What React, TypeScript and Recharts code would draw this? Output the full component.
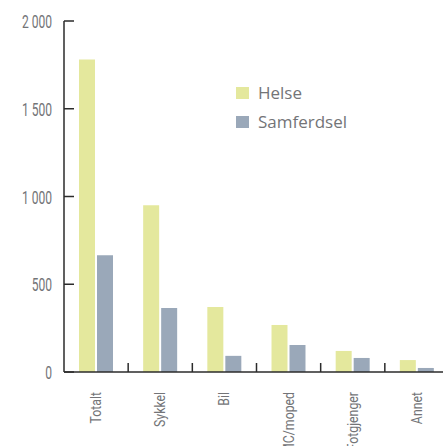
import React from 'react';
import { BarChart, Bar, XAxis, YAxis } from 'recharts';

const CATEGORIES = ['Totalt', 'Sykkel', 'Bil', 'MC/moped', 'Fotgjenger', 'Annet'];
const HELSE = [1780, 950, 370, 268, 120, 68];
const SAMFERDSEL = [665, 365, 92, 154, 80, 23];
const Y_TICKS = [0, 500, 1000, 1500, 2000];
const Y_LABELS = ['0', '500', '1 000', '1 500', '2 000'];

const SERIES = [
  { key: 'helse', name: 'Helse', color: '#e4e89d' },
  { key: 'samferdsel', name: 'Samferdsel', color: '#9aa8b9' },
];

const data = CATEGORIES.map((name, i) => ({
  name,
  helse: HELSE[i],
  samferdsel: SAMFERDSEL[i],
}));

const CHART_W = 450;
const CHART_H = 446;
const Y_AXIS_W = 64;
const MARGIN = { top: 21, right: 1, left: 0, bottom: 0 };
const BAND = (CHART_W - Y_AXIS_W - MARGIN.left - MARGIN.right) / CATEGORIES.length;

const AXIS_COLOR = '#2b2b2b';
const TEXT_COLOR = '#737477';
const FONT = "Roboto, 'Noto Sans', sans-serif";

// condensed look: squeeze Roboto horizontally
function YTick(props: any) {
  const { x, y, payload } = props;
  const idx = Y_TICKS.indexOf(payload.value);
  return (
    <g>
      <line x1={x} y1={y} x2={x + 10} y2={y} stroke={AXIS_COLOR} strokeWidth={1.5} />
      <text
        transform={`translate(${x - 12}, ${y + 7}) scale(0.67, 1)`}
        textAnchor="end"
        fill={TEXT_COLOR}
        fontFamily={FONT}
        fontSize={18}
      >
        {idx >= 0 ? Y_LABELS[idx] : payload.value}
      </text>
    </g>
  );
}

function XTick(props: any) {
  const { x, y, payload } = props;
  const bx = x + BAND / 2;
  return (
    <g>
      <line x1={bx} y1={y} x2={bx} y2={y - 9} stroke={AXIS_COLOR} strokeWidth={1.5} />
      <text
        transform={`translate(${x + 5}, ${y + 20}) rotate(-90) scale(0.82, 1)`}
        textAnchor="end"
        fill={TEXT_COLOR}
        fontFamily={FONT}
        fontSize={15}
      >
        {payload.value}
      </text>
    </g>
  );
}

function LegendBox() {
  return (
    <div
      style={{
        position: 'absolute',
        left: 236,
        top: 78,
        fontFamily: "'Open Sans', sans-serif",
        fontSize: 17,
        color: TEXT_COLOR,
      }}
    >
      {SERIES.map((s) => (
        <div key={s.key} style={{ display: 'flex', alignItems: 'center', height: 29 }}>
          <span
            style={{
              display: 'inline-block',
              width: 13,
              height: 12,
              background: s.color,
              marginRight: 9,
            }}
          />
          <span>{s.name}</span>
        </div>
      ))}
    </div>
  );
}

export default function App() {
  return (
    <div
      style={{
        position: 'absolute',
        left: 0,
        top: 0,
        width: 443,
        height: 446,
        overflow: 'hidden',
        background: '#fff',
      }}
    >
      <BarChart
        width={CHART_W}
        height={CHART_H}
        data={data}
        margin={MARGIN}
        barSize={16}
        barGap={2}
      >
        <XAxis
          dataKey="name"
          height={74}
          interval={0}
          tickSize={0}
          tickMargin={0}
          tickLine={false}
          axisLine={{ stroke: AXIS_COLOR, strokeWidth: 1.5 }}
          tick={<XTick />}
        />
        <YAxis
          width={Y_AXIS_W}
          domain={[0, 2000]}
          ticks={Y_TICKS}
          interval={0}
          tickSize={0}
          tickMargin={0}
          tickLine={false}
          axisLine={{ stroke: AXIS_COLOR, strokeWidth: 1.5 }}
          tick={<YTick />}
        />
        {SERIES.map((s) => (
          <Bar key={s.key} dataKey={s.key} name={s.name} fill={s.color} isAnimationActive={false} />
        ))}
      </BarChart>
      <LegendBox />
    </div>
  );
}
